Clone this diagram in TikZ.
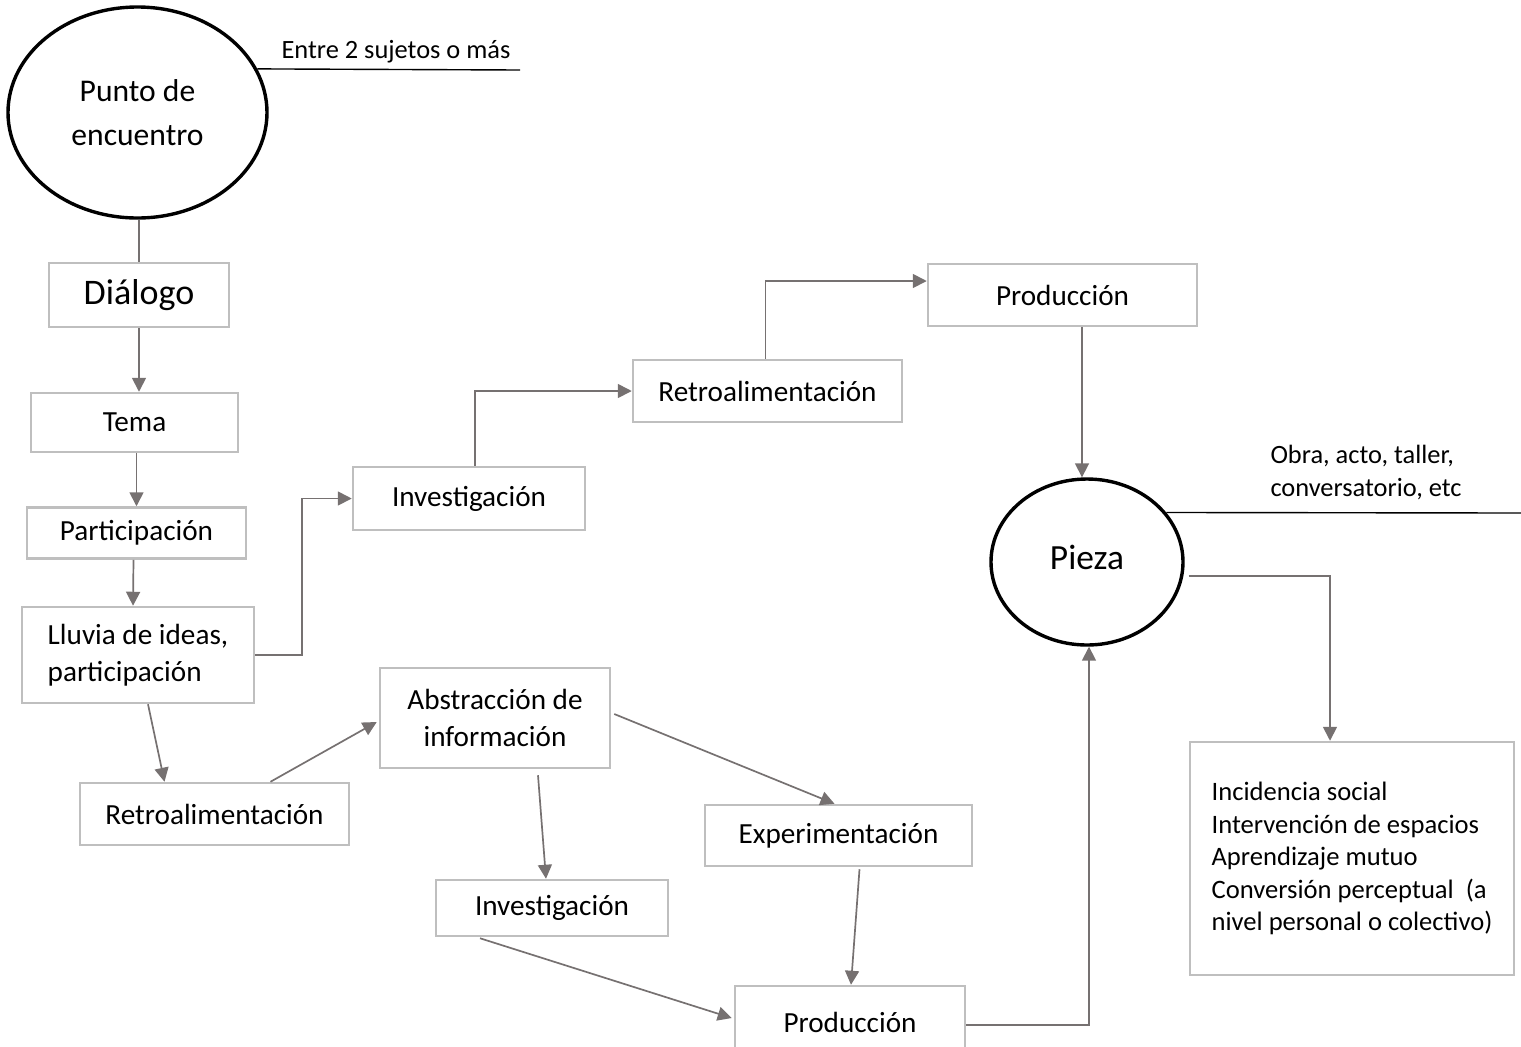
\documentclass[tikz,border=0pt]{standalone}
\usepackage{fontspec}
\setmainfont{Carlito}
\usepackage{tikz}
\usetikzlibrary{shapes.geometric, arrows.meta, positioning, calc}

\definecolor{boxgray}{RGB}{191,191,191}
\definecolor{lingray}{RGB}{118,113,113}

\tikzset{
  stepbox/.style={draw=boxgray, line width=1.25pt, fill=white, align=center,
    font=\fontsize{14.6}{18.5}\selectfont},
  bigring/.style={ellipse, draw=black, line width=1.7pt, align=center,
    font=\fontsize{15.8}{22}\selectfont},
  conn/.style={draw=lingray, line width=0.85pt},
  arr/.style={conn, -{Triangle[length=7pt, width=7pt]}},
  note/.style={align=left, font=\fontsize{13.2}{16.5}\selectfont},
}

\begin{document}
\begin{tikzpicture}[x=0.5pt, y=-0.5pt]
  \useasboundingbox (0,0) rectangle (1521,1046);

  % ── Left column ──
  \node[bigring, minimum width=129.5pt, minimum height=105.5pt] (punto) at (137.5,112.5) {Punto de\\encuentro};
  \node[stepbox, minimum width=90pt, minimum height=32pt, font=\fontsize{18}{22}\selectfont] (dialogo) at (139,295) {Diálogo};
  \node[stepbox, minimum width=103.5pt, minimum height=29.5pt] (tema) at (134.5,422.5) {Tema};
  \node[stepbox, minimum width=109.5pt, minimum height=25.5pt] (partic) at (136.5,533) {Participación};
  \node[stepbox, align=left, minimum width=116pt, minimum height=48pt] (lluvia) at (138,655) {Lluvia de ideas,\\participación};

  % ── Upper chain ──
  \node[stepbox, minimum width=116pt, minimum height=31.5pt] (inv1) at (469,498.5) {Investigación};
  \node[stepbox, minimum width=134.5pt, minimum height=31pt] (retro1) at (767.5,391) {Retroalimentación};
  \node[stepbox, minimum width=134.5pt, minimum height=31pt] (prod1) at (1062.5,295) {Producción};

  % ── Lower branch ──
  \node[stepbox, minimum width=134.5pt, minimum height=31pt] (retro2) at (214.5,814) {Retroalimentación};
  \node[stepbox, minimum width=115pt, minimum height=50pt] (abstr) at (495,718) {Abstracción de\\información};
  \node[stepbox, minimum width=133.5pt, minimum height=30.5pt] (exper) at (838.5,835.5) {Experimentación};
  \node[stepbox, minimum width=116pt, minimum height=28pt] (inv2) at (552,908) {Investigación};
  \node[stepbox, minimum width=115pt, minimum height=36pt] (prod2) at (850,1022) {Producción};

  % ── Right side ──
  \node[bigring, minimum width=96pt, minimum height=83pt, font=\fontsize{17.7}{22}\selectfont] (pieza) at (1087,562) {\raisebox{4.5pt}{Pieza}};
  \node[stepbox, align=left, minimum width=162pt, minimum height=116.5pt, font=\fontsize{13.3}{16.25}\selectfont] (efectos) at (1352,858.5)
    {Incidencia social\\Intervención de espacios\\Aprendizaje mutuo\\Conversión perceptual~ (a\\nivel personal o colectivo)};

  % ── Side notes ──
  \node[note] (entre) at (396,52) {Entre 2 sujetos o más};
  \coordinate (entreEnd) at (520,70);
  \draw[line width=0.7pt] (punto.20) -- (entreEnd);
  \node[note] (obra) at (1366,473) {Obra, acto, taller,\\conversatorio, etc};
  \coordinate (obraEnd) at (1521,513);
  \draw[line width=0.7pt] (pieza.32) -- (obraEnd);

  % ── Connectors ──
  \draw[conn] (punto.south -| dialogo.north) -- (dialogo.north);
  \draw[arr] (dialogo.south) -- (dialogo.south |- tema.north);
  \draw[arr] (tema.south -| partic.north) -- (partic.north);
  \draw[arr] ($(partic.south)+(-3,0)$) -- ($(lluvia.north)+(-5,0)$);
  \draw[arr] (lluvia.east) -- ++(47,0) |- (inv1.west);
  \draw[arr] ($(inv1.north)+(6,0)$) |- (retro1.west);
  \draw[arr] ($(retro1.north)+(-2,0)$) |- ($(prod1.west)+(0,-14)$);
  \draw[arr] ($(prod1.south -| pieza.north)+(-5,0)$) -- ($(pieza.north)+(-5,0)$);
  \draw[arr] ($(pieza.east)+(4,14)$) -| ($(efectos.north)+(-22,0)$);

  \draw[arr] ($(lluvia.south)+(10,0)$) -- ($(retro2.north)+(-50,0)$);
  \draw[arr] ($(retro2.north)+(56,0)$) -- ($(abstr.west)+(-2,4)$);
  \draw[arr] ($(abstr.east)+(3,-4)$) -- ($(exper.north)+(-4,0)$);
  \draw[arr] ($(abstr.south)+(43,6)$) -- ($(inv2.north)+(-6,0)$);
  \draw[arr] ($(inv2.south)+(-72,1)$) -- ($(prod2.west)+(-2,-4)$);
  \draw[arr] ($(exper.south)+(21,2)$) -- ($(prod2.north)+(1,0)$);
  \draw[arr] ($(prod2.east)+(0,3)$) -| ($(pieza.south)+(2,0)$);

\end{tikzpicture}
\end{document}
